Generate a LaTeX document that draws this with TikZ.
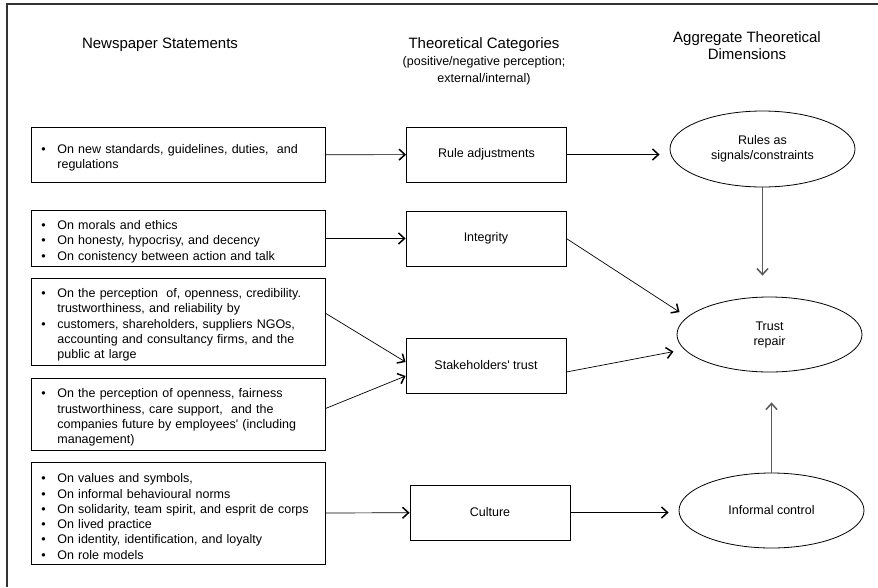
\documentclass[tikz,border=0pt]{standalone}
\usepackage{fontspec}
\setmainfont{Liberation Sans}
\usetikzlibrary{arrows.meta}
\usetikzlibrary{shapes.geometric}

\newcommand{\bul}[1]{\par\noindent\makebox[16pt][l]{\textbullet}%
  \parbox[t]{258pt}{\raggedright #1\par\xdef\buldepth{\the\prevdepth}}\par\prevdepth=\buldepth\relax}

\begin{document}
\begin{tikzpicture}[x=1pt,y=-1pt,
  stmt/.style={draw, rectangle, line width=0.8pt, anchor=north west, text width=274pt,
    inner xsep=10pt, inner ysep=0pt, font=\fontsize{12.5}{15.3}\selectfont},
  cat/.style={draw, rectangle, line width=0.8pt, minimum width=160pt, minimum height=55pt,
    font=\fontsize{12.5}{15}\selectfont},
  dim/.style={draw, ellipse, line width=0.8pt, minimum width=185pt, minimum height=75pt,
    inner sep=0pt, align=center, font=\fontsize{12.5}{15}\selectfont},
  hdr/.style={align=center, font=\fontsize{15}{17}\selectfont},
  hsub/.style={align=center, font=\fontsize{12.5}{17}\selectfont},
  arr/.style={-{Straight Barb[length=6pt,width=11pt,line width=1.5pt]}, line width=0.7pt},
  vert/.style={arr, draw=black!65}]
   \useasboundingbox (0,0) rectangle (878,587);
   \draw[line width=1.5pt, black!80] (6,4) -- (878,4);
   \draw[line width=1.5pt, black!80] (7,4) -- (7,587);

   % headings
   \node[hdr] (hstmt) at (160,45) {Newspaper Statements};
   \node[hdr] (hcat) at (484,45) {Theoretical Categories};
   \node[hsub] (hcatsub) at (484,70.5) {(positive/negative perception;\\ external/internal)};
   \node[hdr] (hdim) at (747,46) {Aggregate Theoretical\\ Dimensions};

   % newspaper statements
   \node[stmt, minimum height=55pt] (srule) at (31,127)
     {\bul{On new standards, guidelines, duties,\ \ and\\ regulations}\vspace{12pt}};
   \node[stmt, minimum height=56pt] (sint) at (31,210)
     {\bul{On morals and ethics}
      \bul{On honesty, hypocrisy, and decency}
      \bul{On conistency between action and talk}};
   \node[stmt, minimum height=87pt] (spub) at (31,278)
     {\bul{On the perception\ \ of, openness, credibility.\\ trustworthiness, and reliability by}
      \bul{customers, shareholders, suppliers NGOs,\\ accounting and consultancy firms, and the\\ public at large}};
   \node[stmt, minimum height=72pt] (semp) at (31,378)
     {\bul{On the perception of openness, fairness\\ trustworthiness, care support,\ \ and the\\ companies future by employees\textquotesingle{} (including\\ management)}};
   \node[stmt, minimum height=102pt] (sval) at (31,462)
     {\bul{On values and symbols,}
      \bul{On informal behavioural norms}
      \bul{On solidarity, team spirit, and esprit de corps}
      \bul{On lived practice}
      \bul{On identity, identification, and loyalty}
      \bul{On role models}};

   % theoretical categories
   \node[cat] (cadj) at (486.5,154.5) {Rule adjustments};
   \node[cat] (cint) at (486,238.5) {Integrity};
   \node[cat] (cstk) at (486,365.5) {Stakeholders\textquotesingle{} trust};
   \node[cat] (ccul) at (490,512.5) {Culture};

   % aggregate dimensions
   \node[dim, minimum height=76pt] (drule) at (762.5,149) {Rules as\\ signals/constraints};
   \node[dim] (dtrust) at (769.5,334.5) {Trust\\ repair};
   \node[dim] (dinf) at (771.5,510.5) {Informal control};

   \draw[arr] (srule) -- (cadj);
   \draw[arr] (sint) -- (cint);
   \draw[arr] ([yshift=8.5pt]spub.east) -- ([yshift=3.5pt]cstk.west);
   \draw[arr] ([yshift=6pt]semp.east) -- ([yshift=-10.5pt]cstk.west);
   \draw[arr] (sval) -- (ccul);

   \draw[arr, shorten >=10pt] (cadj.east) -- (cadj.east -| drule.west);
   \draw[arr, shorten >=9pt] (cint.east) -- (dtrust.168);
   \draw[arr, shorten >=11pt] ([yshift=-6.5pt]cstk.east) -- (dtrust.190);
   \draw[arr, line width=1.3pt, shorten >=10pt] (ccul.east) -- (ccul.east -| dinf.west);

   \draw[vert, shorten >=21pt] (drule.south) -- (drule.south |- dtrust.north);
   \draw[vert, shorten >=30pt] (dinf.north) -- (dinf.north |- dtrust.south);
\end{tikzpicture}
\end{document}
